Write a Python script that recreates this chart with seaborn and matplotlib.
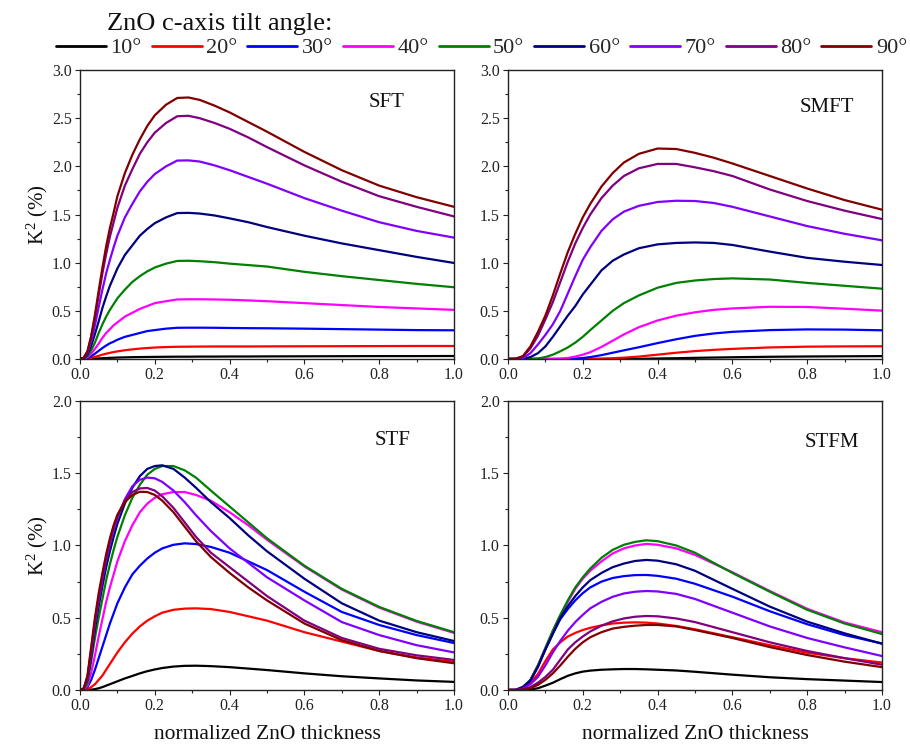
import matplotlib
matplotlib.use("Agg")
import matplotlib.pyplot as plt
from matplotlib.lines import Line2D
from matplotlib.ticker import MultipleLocator
import pandas as pd
import seaborn as sns

# ZnO c-axis tilt angles and their line colours
ANGLES = [10, 20, 30, 40, 50, 60, 70, 80, 90]
COLORS = ["#000000", "#ff0000", "#0000ff", "#ff00ff", "#008000",
          "#000080", "#8000ff", "#800080", "#800000"]

# ---------------- SFT ----------------
SFT_X = [0, 0.01, 0.02, 0.03, 0.04, 0.05, 0.06, 0.07, 0.08, 0.09, 0.10, 0.12, 0.14,
         0.16, 0.18, 0.20, 0.23, 0.26, 0.29, 0.32, 0.36, 0.40, 0.45, 0.50, 0.60,
         0.70, 0.80, 0.90, 1.00]
SFT_10 = [0, 0, 0.001, 0.002, 0.004, 0.006, 0.008, 0.01, 0.012, 0.013, 0.015, 0.017, 0.019,
          0.02, 0.021, 0.022, 0.023, 0.024, 0.024, 0.025, 0.025, 0.026, 0.026, 0.027, 0.028,
          0.029, 0.03, 0.03, 0.031]
SFT_20 = [0, 0.001, 0.004, 0.012, 0.022, 0.033, 0.045, 0.055, 0.064, 0.072, 0.079, 0.091, 0.10,
          0.108, 0.114, 0.119, 0.124, 0.127, 0.128, 0.129, 0.13, 0.13, 0.13, 0.131, 0.132,
          0.133, 0.134, 0.135, 0.135]
SFT_30 = [0, 0.002, 0.01, 0.03, 0.055, 0.085, 0.114, 0.14, 0.163, 0.18, 0.20, 0.23, 0.25,
          0.27, 0.29, 0.30, 0.315, 0.324, 0.325, 0.325, 0.324, 0.322, 0.32, 0.319, 0.315,
          0.31, 0.305, 0.30, 0.298]
SFT_40 = [0, 0.003, 0.019, 0.056, 0.105, 0.16, 0.22, 0.27, 0.31, 0.35, 0.38, 0.44, 0.48,
          0.52, 0.55, 0.58, 0.60, 0.618, 0.62, 0.62, 0.618, 0.615, 0.608, 0.60, 0.58,
          0.56, 0.54, 0.525, 0.51]
SFT_50 = [0, 0.005, 0.03, 0.09, 0.17, 0.27, 0.36, 0.44, 0.51, 0.57, 0.63, 0.72, 0.80,
          0.86, 0.91, 0.95, 0.99, 1.018, 1.02, 1.015, 1.005, 0.99, 0.975, 0.96, 0.905,
          0.86, 0.82, 0.78, 0.745]
SFT_60 = [0, 0.008, 0.046, 0.137, 0.26, 0.39, 0.53, 0.65, 0.76, 0.85, 0.94, 1.08, 1.18,
          1.28, 1.35, 1.41, 1.47, 1.515, 1.517, 1.51, 1.49, 1.46, 1.42, 1.37, 1.28,
          1.20, 1.13, 1.06, 0.997]
SFT_70 = [0, 0.01, 0.062, 0.186, 0.35, 0.54, 0.72, 0.89, 1.03, 1.16, 1.28, 1.47, 1.61,
          1.74, 1.84, 1.92, 2.00, 2.06, 2.062, 2.05, 2.01, 1.96, 1.89, 1.82, 1.67,
          1.54, 1.42, 1.33, 1.26]
SFT_80 = [0, 0.013, 0.076, 0.23, 0.43, 0.66, 0.89, 1.09, 1.27, 1.42, 1.57, 1.80, 1.97,
          2.13, 2.25, 2.35, 2.45, 2.52, 2.525, 2.50, 2.45, 2.39, 2.30, 2.20, 2.01,
          1.84, 1.69, 1.58, 1.48]
SFT_90 = [0, 0.014, 0.08, 0.24, 0.46, 0.71, 0.95, 1.17, 1.36, 1.52, 1.69, 1.93, 2.12,
          2.28, 2.42, 2.53, 2.64, 2.71, 2.715, 2.69, 2.63, 2.56, 2.46, 2.36, 2.15,
          1.96, 1.80, 1.68, 1.58]

# ---------------- SMFT ----------------
SMFT_X = [0, 0.02, 0.04, 0.06, 0.08, 0.10, 0.12, 0.14, 0.16, 0.18, 0.20, 0.22, 0.25,
          0.28, 0.31, 0.35, 0.40, 0.45, 0.50, 0.55, 0.60, 0.70, 0.80, 0.90, 1.00]
SMFT_10 = [0, 0, 0, 0, 0, 0, 0, 0, 0, 0, 0, 0, 0,
           0, 0.001, 0.002, 0.005, 0.008, 0.012, 0.015, 0.018, 0.023, 0.026, 0.028, 0.03]
SMFT_20 = [0, 0, 0, 0, 0, 0, 0, 0, 0, 0, 0, 0.001, 0.004,
           0.008, 0.014, 0.025, 0.045, 0.065, 0.082, 0.095, 0.105, 0.12, 0.128, 0.131, 0.132]
SMFT_30 = [0, 0, 0, 0, 0, 0, 0, 0, 0, 0.003, 0.01, 0.02, 0.04,
           0.065, 0.09, 0.122, 0.165, 0.205, 0.24, 0.265, 0.282, 0.30, 0.307, 0.305, 0.298]
SMFT_40 = [0, 0, 0, 0, 0, 0, 0, 0.003, 0.01, 0.025, 0.045, 0.07, 0.125,
           0.19, 0.255, 0.33, 0.40, 0.45, 0.485, 0.51, 0.525, 0.542, 0.54, 0.522, 0.502]
SMFT_50 = [0, 0, 0, 0, 0.005, 0.02, 0.045, 0.08, 0.12, 0.17, 0.23, 0.30, 0.40,
           0.50, 0.58, 0.66, 0.74, 0.79, 0.815, 0.83, 0.837, 0.825, 0.79, 0.76, 0.73]
SMFT_60 = [0, 0, 0, 0.02, 0.06, 0.13, 0.23, 0.34, 0.45, 0.55, 0.67, 0.77, 0.92,
           1.02, 1.085, 1.15, 1.19, 1.205, 1.21, 1.205, 1.184, 1.115, 1.05, 1.01, 0.976]
SMFT_70 = [0, 0, 0.01, 0.06, 0.15, 0.25, 0.36, 0.50, 0.68, 0.86, 1.03, 1.16, 1.33,
           1.45, 1.53, 1.59, 1.63, 1.643, 1.64, 1.62, 1.58, 1.48, 1.38, 1.30, 1.232]
SMFT_80 = [0, 0.002, 0.025, 0.11, 0.24, 0.41, 0.59, 0.80, 1.01, 1.20, 1.36, 1.50, 1.67,
           1.80, 1.90, 1.98, 2.025, 2.025, 1.99, 1.95, 1.90, 1.76, 1.64, 1.54, 1.453]
SMFT_90 = [0, 0.003, 0.03, 0.13, 0.28, 0.45, 0.66, 0.89, 1.11, 1.30, 1.47, 1.61, 1.79,
           1.93, 2.04, 2.13, 2.185, 2.18, 2.14, 2.09, 2.03, 1.90, 1.77, 1.65, 1.55]

# ---------------- STF ----------------
STF_X = [0, 0.01, 0.02, 0.03, 0.04, 0.05, 0.06, 0.07, 0.08, 0.09, 0.10, 0.12, 0.14,
         0.16, 0.18, 0.20, 0.22, 0.25, 0.28, 0.31, 0.35, 0.40, 0.45, 0.50, 0.60,
         0.70, 0.80, 0.90, 1.00]
STF_10 = [0, 0, 0, 0.002, 0.006, 0.012, 0.02, 0.03, 0.04, 0.05, 0.06, 0.08, 0.097,
          0.115, 0.13, 0.142, 0.152, 0.162, 0.167, 0.168, 0.165, 0.158, 0.148, 0.138, 0.115,
          0.095, 0.08, 0.066, 0.056]
STF_20 = [0, 0, 0.005, 0.02, 0.04, 0.07, 0.10, 0.14, 0.18, 0.22, 0.26, 0.33, 0.39,
          0.44, 0.48, 0.51, 0.535, 0.555, 0.563, 0.565, 0.56, 0.54, 0.51, 0.48, 0.40,
          0.335, 0.27, 0.225, 0.195]
STF_30 = [0, 0, 0.02, 0.07, 0.14, 0.22, 0.30, 0.38, 0.46, 0.53, 0.60, 0.71, 0.80,
          0.86, 0.91, 0.95, 0.98, 1.005, 1.015, 1.01, 0.99, 0.95, 0.89, 0.83, 0.68,
          0.54, 0.45, 0.38, 0.325]
STF_40 = [0, 0, 0.03, 0.12, 0.24, 0.37, 0.49, 0.61, 0.71, 0.80, 0.89, 1.03, 1.14,
          1.23, 1.29, 1.33, 1.355, 1.37, 1.37, 1.35, 1.31, 1.23, 1.14, 1.04, 0.855,
          0.695, 0.57, 0.473, 0.395]
STF_50 = [0, 0, 0.05, 0.20, 0.36, 0.50, 0.63, 0.76, 0.87, 0.97, 1.06, 1.21, 1.33,
          1.42, 1.49, 1.53, 1.55, 1.55, 1.52, 1.47, 1.38, 1.27, 1.16, 1.05, 0.86,
          0.70, 0.575, 0.478, 0.40]
STF_60 = [0, 0.01, 0.07, 0.23, 0.42, 0.58, 0.72, 0.85, 0.96, 1.06, 1.15, 1.29, 1.40,
          1.48, 1.53, 1.55, 1.555, 1.53, 1.47, 1.40, 1.30, 1.19, 1.07, 0.96, 0.77,
          0.60, 0.48, 0.40, 0.339]
STF_70 = [0, 0.01, 0.08, 0.26, 0.46, 0.62, 0.77, 0.90, 1.01, 1.11, 1.19, 1.32, 1.41,
          1.455, 1.47, 1.465, 1.44, 1.38, 1.30, 1.21, 1.10, 0.98, 0.88, 0.78, 0.62,
          0.47, 0.38, 0.31, 0.26]
STF_80 = [0, 0.01, 0.09, 0.28, 0.48, 0.64, 0.79, 0.92, 1.03, 1.13, 1.21, 1.31, 1.37,
          1.395, 1.398, 1.38, 1.34, 1.26, 1.16, 1.06, 0.95, 0.85, 0.75, 0.65, 0.48,
          0.36, 0.285, 0.24, 0.208]
STF_90 = [0, 0.01, 0.10, 0.30, 0.50, 0.67, 0.81, 0.94, 1.05, 1.14, 1.21, 1.30, 1.35,
          1.372, 1.37, 1.35, 1.31, 1.23, 1.13, 1.03, 0.92, 0.81, 0.71, 0.62, 0.46,
          0.345, 0.27, 0.22, 0.185]

# ---------------- STFM ----------------
STFM_X = [0, 0.02, 0.04, 0.06, 0.08, 0.10, 0.12, 0.14, 0.16, 0.18, 0.20, 0.22, 0.25,
          0.28, 0.31, 0.34, 0.37, 0.40, 0.45, 0.50, 0.60, 0.70, 0.80, 0.90, 1.00]
STFM_10 = [0, 0, 0, 0.003, 0.012, 0.03, 0.05, 0.075, 0.098, 0.115, 0.127, 0.134, 0.14,
           0.143, 0.145, 0.145, 0.143, 0.14, 0.135, 0.126, 0.106, 0.088, 0.075, 0.065, 0.055]
STFM_20 = [0, 0, 0.015, 0.05, 0.11, 0.20, 0.28, 0.33, 0.37, 0.395, 0.415, 0.43, 0.447,
           0.46, 0.466, 0.468, 0.466, 0.46, 0.443, 0.42, 0.365, 0.31, 0.258, 0.22, 0.19]
STFM_30 = [0, 0, 0.02, 0.065, 0.16, 0.28, 0.39, 0.49, 0.56, 0.62, 0.67, 0.71, 0.75,
           0.775, 0.788, 0.795, 0.796, 0.79, 0.77, 0.735, 0.646, 0.545, 0.455, 0.38, 0.322]
STFM_40 = [0, 0, 0.02, 0.07, 0.17, 0.29, 0.41, 0.515, 0.61, 0.70, 0.77, 0.825, 0.89,
           0.945, 0.98, 1.0, 1.011, 1.005, 0.98, 0.935, 0.815, 0.685, 0.562, 0.467, 0.40]
STFM_50 = [0, 0, 0.02, 0.07, 0.17, 0.29, 0.41, 0.52, 0.62, 0.71, 0.78, 0.84, 0.915,
           0.97, 1.005, 1.025, 1.036, 1.03, 1.0, 0.95, 0.81, 0.68, 0.555, 0.46, 0.387]
STFM_60 = [0, 0, 0.02, 0.065, 0.16, 0.28, 0.39, 0.50, 0.58, 0.65, 0.71, 0.76, 0.81,
           0.85, 0.875, 0.893, 0.90, 0.895, 0.87, 0.825, 0.70, 0.577, 0.473, 0.392, 0.32]
STFM_70 = [0, 0, 0.01, 0.04, 0.09, 0.17, 0.26, 0.34, 0.41, 0.47, 0.52, 0.565, 0.61,
           0.645, 0.668, 0.68, 0.685, 0.682, 0.665, 0.63, 0.535, 0.44, 0.36, 0.295, 0.235]
STFM_80 = [0, 0, 0.005, 0.02, 0.05, 0.09, 0.14, 0.21, 0.28, 0.33, 0.37, 0.405, 0.445,
           0.475, 0.495, 0.507, 0.512, 0.51, 0.495, 0.47, 0.40, 0.33, 0.27, 0.22, 0.175]
STFM_90 = [0, 0, 0.003, 0.012, 0.035, 0.07, 0.115, 0.17, 0.23, 0.285, 0.33, 0.365, 0.40,
           0.425, 0.437, 0.445, 0.45, 0.45, 0.44, 0.415, 0.36, 0.297, 0.242, 0.196, 0.158]

PANELS = [
    ("SFT", SFT_X, [SFT_10, SFT_20, SFT_30, SFT_40, SFT_50, SFT_60, SFT_70, SFT_80, SFT_90], 3.0),
    ("SMFT", SMFT_X, [SMFT_10, SMFT_20, SMFT_30, SMFT_40, SMFT_50, SMFT_60, SMFT_70, SMFT_80, SMFT_90], 3.0),
    ("STF", STF_X, [STF_10, STF_20, STF_30, STF_40, STF_50, STF_60, STF_70, STF_80, STF_90], 2.0),
    ("STFM", STFM_X, [STFM_10, STFM_20, STFM_30, STFM_40, STFM_50, STFM_60, STFM_70, STFM_80, STFM_90], 2.0),
]

# axes rectangles in figure fractions: [left, bottom, width, height]
RECTS = [
    [0.0879, 0.5207, 0.411, 0.3858],
    [0.5582, 0.5207, 0.411, 0.3858],
    [0.0879, 0.0788, 0.411, 0.3858],
    [0.5582, 0.0788, 0.411, 0.3858],
]
LABEL_POS = [(0.82, 0.889), (0.853, 0.872), (0.837, 0.865), (0.866, 0.858)]

sns.set_theme(style="ticks")
plt.rcParams["font.family"] = ["Liberation Serif", "DejaVu Serif"]
plt.rcParams["mathtext.fontset"] = "custom"
plt.rcParams["mathtext.rm"] = "Liberation Serif"
plt.rcParams["mathtext.it"] = "Liberation Serif:italic"

palette = dict(zip(ANGLES, COLORS))

fig = plt.figure(figsize=(9.1, 7.49), dpi=100)
fig.patch.set_facecolor("white")

for i, ((name, xs, series, ymax), rect, lpos) in enumerate(zip(PANELS, RECTS, LABEL_POS)):
    ax = fig.add_axes(rect)
    rows = []
    for ang, ys in zip(ANGLES, series):
        for xv, yv in zip(xs, ys):
            rows.append({"x": xv, "k2": yv, "angle": ang})
    df = pd.DataFrame(rows)
    sns.lineplot(data=df, x="x", y="k2", hue="angle", hue_order=ANGLES,
                 palette=palette, legend=False, errorbar=None,
                 linewidth=1.6, ax=ax)
    ax.set_xlim(0, 1)
    ax.set_ylim(0, ymax)
    ax.xaxis.set_major_locator(MultipleLocator(0.2))
    ax.xaxis.set_minor_locator(MultipleLocator(0.1))
    ax.yaxis.set_major_locator(MultipleLocator(0.5))
    ax.yaxis.set_minor_locator(MultipleLocator(0.25))
    ax.tick_params(which="both", direction="out", top=False, right=False,
                   colors="#222222", labelcolor="#222222", width=0.8)
    ax.tick_params(which="major", length=3.5, labelsize=11.5, pad=2.5)
    ax.tick_params(which="minor", length=2.2)
    for sp in ax.spines.values():
        sp.set_color("#222222")
        sp.set_linewidth(1.0)
    ax.set_facecolor("white")
    ax.grid(False)
    ax.text(lpos[0], lpos[1], name, transform=ax.transAxes, fontsize=15,
            ha="center", va="center", color="#111111")
    if i % 2 == 0:
        ax.set_ylabel("K$^2$ (%)", fontsize=15, labelpad=1, color="#111111")
    else:
        ax.set_ylabel("")
    if i >= 2:
        ax.set_xlabel("normalized ZnO thickness", fontsize=15.5, labelpad=8, color="#111111")
    else:
        ax.set_xlabel("")

handles = [Line2D([], [], color=c, lw=2.0) for c in COLORS]
labels = [f"{a}°" for a in ANGLES]
fig.legend(handles, labels, ncol=9, loc="center left",
           bbox_to_anchor=(56 / 910, 1 - 48 / 749), frameon=False,
           fontsize=16, handlelength=2.25, handletextpad=0.2,
           columnspacing=0.45, borderaxespad=0, borderpad=0)
fig.text(107 / 910, 1 - 24 / 749, "ZnO c-axis tilt angle:", fontsize=19,
         ha="left", va="center", color="#111111")

fig.savefig("out.png", dpi=100, facecolor="white")
